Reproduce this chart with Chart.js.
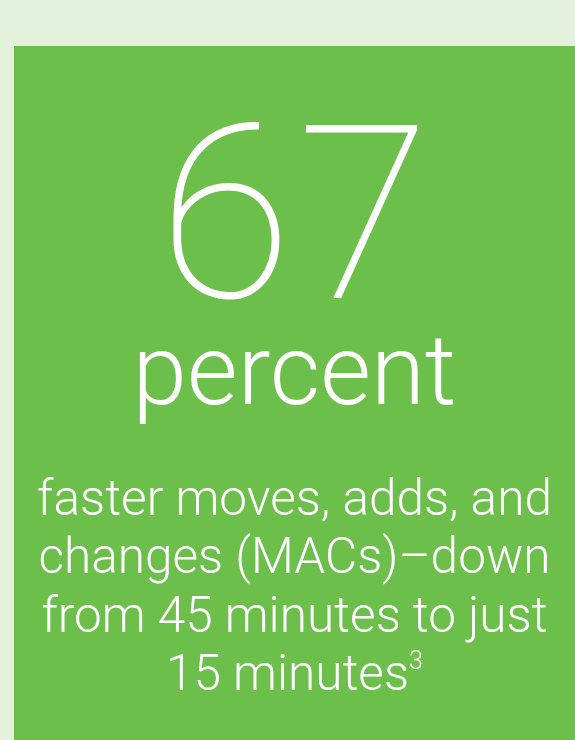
<!DOCTYPE html>
<html>
<head>
<meta charset="utf-8">
<script src="https://cdn.jsdelivr.net/npm/chart.js@4"></script>
<style>
  html, body { margin: 0; padding: 0; }
  body { width: 575px; height: 740px; background: #e4f1dc; position: relative; overflow: hidden; font-family: Roboto, "Open Sans", sans-serif; color: #fff; }
  #panel { position: absolute; left: 14px; top: 46px; width: 561px; height: 694px; }
  #panel canvas { position: absolute; left: 0; top: 0; }
  .txt { position: absolute; left: 0; width: 561px; text-align: center; white-space: nowrap; }
  #big { font-size: 242px; line-height: 242px; font-weight: 100; top: 47px; letter-spacing: 6px; text-indent: 6px; -webkit-text-stroke: 1.2px #fff; }
  #unit { font-size: 98px; line-height: 98px; font-weight: 300; top: 276px; }
  .cap { font-size: 49.5px; line-height: 50px; font-weight: 300; }
  sup { font-size: 25px; vertical-align: 0; position: relative; top: -21px; }
</style>
</head>
<body>
<div id="panel">
  <canvas id="myChart" width="561" height="694"></canvas>
  <div id="big" class="txt"></div>
  <div id="unit" class="txt"></div>
  <div id="caption"></div>
</div>
<script>
  // headline stat
  const statValue = [67];
  const statUnit = ['percent'];
  const captionLines = [
    'faster moves, adds, and',
    'changes (MACs)\u2013down',
    'from 45 minutes to just',
    '15 minutes'
  ];
  const footnote = ['3'];

  const panelColor = '#6dbf4b';

  document.getElementById('big').textContent = statValue[0];
  document.getElementById('unit').textContent = statUnit[0];

  const caption = document.getElementById('caption');
  const lineTops = [427, 485, 544, 602];
  captionLines.forEach((line, i) => {
    const div = document.createElement('div');
    div.className = 'txt cap';
    div.style.top = lineTops[i] + 'px';
    div.textContent = line;
    if (i === captionLines.length - 1) {
      const s = document.createElement('sup');
      s.textContent = footnote[0];
      div.appendChild(s);
    }
    caption.appendChild(div);
  });

  // panel fill drawn by chart.js itself
  const panelBg = {
    id: 'panelBg',
    beforeDraw(chart) {
      const ctx = chart.ctx;
      ctx.save();
      ctx.fillStyle = panelColor;
      ctx.fillRect(0, 0, chart.width, chart.height);
      ctx.restore();
    }
  };

  const ctx = document.getElementById('myChart').getContext('2d');
  new Chart(ctx, {
    type: 'bar',
    data: {
      labels: statUnit,
      datasets: [{ data: [], backgroundColor: 'rgba(0,0,0,0)' }]
    },
    options: {
      responsive: false,
      animation: false,
      plugins: { legend: { display: false }, tooltip: { enabled: false } },
      scales: { x: { display: false }, y: { display: false } }
    },
    plugins: [panelBg]
  });
</script>
</body>
</html>
